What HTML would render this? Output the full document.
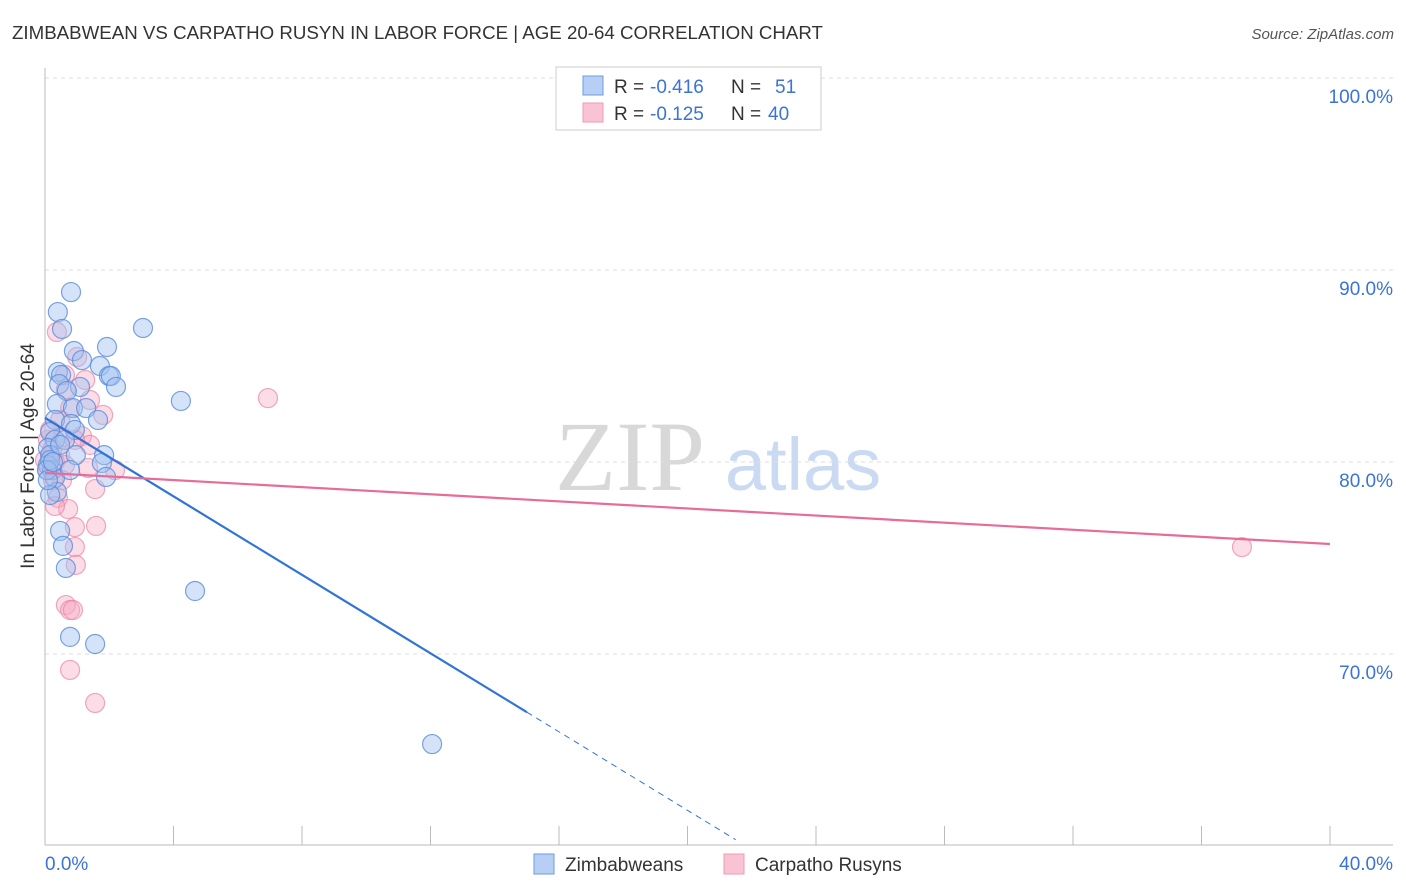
<!DOCTYPE html>
<html><head><meta charset="utf-8"><style>
body{margin:0;background:#fff;font-family:"Liberation Sans",sans-serif}
</style></head><body>
<svg id="c" width="1406" height="892" xmlns="http://www.w3.org/2000/svg" style="display:block">
<text x="12" y="39" font-size="18" fill="#333" textLength="811" lengthAdjust="spacingAndGlyphs">ZIMBABWEAN VS CARPATHO RUSYN IN LABOR FORCE | AGE 20-64 CORRELATION CHART</text>
<text x="1394" y="39" font-size="15" fill="#555" font-style="italic" text-anchor="end">Source: ZipAtlas.com</text>
<g>
<text x="630" y="490" font-size="100" fill="#d8d8d8" font-family="Liberation Serif,serif" text-anchor="middle">ZIP</text>
<text x="803" y="490" font-size="74" fill="#c9daf2" text-anchor="middle">atlas</text>
</g>
<g id="grid"></g>
<g id="axes"></g>
<g id="pts"></g>
<g id="trend"></g>
<g>
<rect x="556" y="67" width="265" height="63" fill="#fff" stroke="#ccc"/>
<rect x="583" y="76" width="20" height="19" fill="#b7cff4" stroke="#6d9be0"/>
<rect x="583" y="103" width="20" height="19" fill="#f8c4d4" stroke="#f09ab4"/>
<text x="614" y="93" font-size="19" fill="#333">R =</text>
<text x="650" y="93" font-size="19" fill="#3b73d6">-0.416</text>
<text x="731" y="93" font-size="19" fill="#333">N =</text>
<text x="775" y="93" font-size="19" fill="#3b73d6">51</text>
<text x="614" y="120" font-size="19" fill="#333">R =</text>
<text x="650" y="120" font-size="19" fill="#3b73d6">-0.125</text>
<text x="731" y="120" font-size="19" fill="#333">N =</text>
<text x="768" y="120" font-size="19" fill="#3b73d6">40</text>
</g>
<g>
<rect x="534" y="854" width="20" height="20" fill="#b7cff4" stroke="#6d9be0"/>
<text x="565" y="871" font-size="19" fill="#333">Zimbabweans</text>
<rect x="724" y="854" width="20" height="20" fill="#f8c4d4" stroke="#f09ab4"/>
<text x="755" y="871" font-size="19" fill="#333">Carpatho Rusyns</text>
</g>
</svg>
<script>
const yTicks=[100,90,80,70];
const yTickLabels=["100.0%","90.0%","80.0%","70.0%"];
const xEndLabels=["0.0%","40.0%"];
const blueX=[0.81,0.40,0.53,3.05,0.90,1.93,1.15,0.40,0.50,1.71,1.99,2.05,2.21,0.44,1.09,0.68,0.37,0.87,1.28,4.23,1.65,0.31,0.81,0.16,0.93,0.31,0.62,0.09,0.16,0.96,1.84,0.09,0.22,1.77,1.90,0.31,0.37,0.16,0.47,0.56,0.65,4.67,0.78,1.56,12.05,0.16,0.06,0.25,0.47,0.09,0.78];
const blueY=[88.85,87.81,86.93,86.98,85.78,85.99,85.31,84.69,84.53,85.0,84.48,84.48,83.91,84.06,83.91,83.70,83.02,82.81,82.81,83.18,82.19,82.19,81.98,81.56,81.67,81.15,81.15,80.73,80.36,80.36,80.36,79.84,79.58,79.95,79.22,79.17,78.44,78.28,76.41,75.63,74.48,73.28,70.89,70.52,65.31,80.10,79.58,80.0,80.89,79.06,79.58];
const pinkX=[0.37,1.0,0.62,0.65,1.40,1.81,0.78,0.56,1.15,1.40,0.47,0.31,0.62,0.09,1.34,2.18,0.25,1.56,0.40,0.72,0.31,0.93,1.59,0.93,0.96,0.65,0.78,0.87,0.78,1.56,6.94,37.26,0.09,0.47,0.16,0.22,0.0,0.93,1.25,0.53];
const pinkY=[86.77,85.47,84.53,83.8,83.23,82.45,82.81,81.30,81.35,80.89,80.36,80.0,79.84,79.58,79.69,79.58,79.06,78.59,78.13,77.55,77.71,76.61,76.67,75.57,74.64,72.55,72.29,72.29,69.17,67.45,83.33,75.57,81.15,82.19,81.67,80.63,80.10,81.15,84.27,79.06];
const blueTrend=[82.3,-1.022];
const pinkTrend=[79.43,-0.0925];
const NS="http://www.w3.org/2000/svg";
const X=v=>45+v/40*1285, Y=v=>78+(100-v)*19.2;
function mk(p,t,a){const e=document.createElementNS(NS,t);for(const k in a)e.setAttribute(k,a[k]);p.appendChild(e);return e;}
const grid=document.getElementById('grid'),axes=document.getElementById('axes');
yTicks.forEach((t,i)=>{
 const l=mk(grid,'line',{x1:45,x2:1393,y1:Y(t),y2:Y(t),stroke:'#ddd','stroke-dasharray':'4,4'});
 
 
 const tx=mk(axes,'text',{x:1393,y:Y(t)+25,'font-size':19,fill:'#3b73d6','text-anchor':'end'});
 tx.textContent=yTickLabels[i];
 
 
});
mk(axes,'line',{x1:45,x2:45,y1:68,y2:845,stroke:'#bbb'});
mk(axes,'line',{x1:45,x2:1393,y1:845,y2:845,stroke:'#bbb'});
for(let i=1;i<=10;i++){const t=mk(axes,'line',{x1:X(i*4),x2:X(i*4),y1:826,y2:845,stroke:'#bbb'});
 
 }
const xl0=mk(axes,'text',{x:45,y:870,'font-size':19,fill:'#3b73d6'});xl0.textContent=xEndLabels[0];
const xl1=mk(axes,'text',{x:1393,y:870,'font-size':19,fill:'#3b73d6','text-anchor':'end'});xl1.textContent=xEndLabels[1];
const yt=mk(axes,'text',{x:0,y:0,'font-size':19,fill:'#333','text-anchor':'middle',transform:'translate(34,456) rotate(-90)'});
yt.textContent='In Labor Force | Age 20-64';


const pts=document.getElementById('pts');
pinkX.forEach((x,i)=>{const c=mk(pts,'circle',{cx:X(x),cy:Y(pinkY[i]),r:9.5,fill:'rgba(246,170,194,0.4)',stroke:'rgba(236,130,165,0.7)','stroke-width':1.2});
 
 });
blueX.forEach((x,i)=>{const c=mk(pts,'circle',{cx:X(x),cy:Y(blueY[i]),r:9.5,fill:'rgba(160,194,240,0.45)',stroke:'rgba(90,140,220,0.8)','stroke-width':1.2});
 
 });
const tr=document.getElementById('trend');
const b=x=>blueTrend[0]+blueTrend[1]*x, p=x=>pinkTrend[0]+pinkTrend[1]*x;
let l=mk(tr,'line',{x1:X(0),y1:Y(b(0)),x2:X(15),y2:Y(b(15)),stroke:'#2f74d6','stroke-width':2.2});

l=mk(tr,'line',{x1:X(15),y1:Y(b(15)),x2:X(21.5),y2:Y(b(21.5)),stroke:'#2f74d6','stroke-width':1,'stroke-dasharray':'6,5'});

l=mk(tr,'line',{x1:X(0),y1:Y(p(0)),x2:X(40),y2:Y(p(40)),stroke:'#e86b98','stroke-width':2.2});

</script>
</body></html>
